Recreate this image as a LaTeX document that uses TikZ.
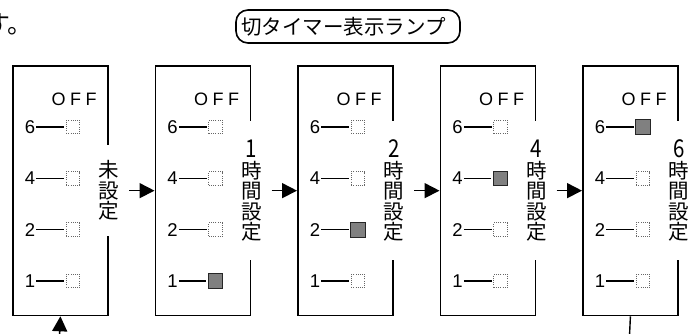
\documentclass[tikz,border=0pt]{standalone}
\usepackage{fontspec}
\usepackage{graphicx}
\setmainfont{Liberation Sans}
\newfontfamily\jp{Noto Sans CJK JP}
\usetikzlibrary{arrows.meta}
\newcommand\dg[1]{\scalebox{1}[1.2]{#1}}
\begin{document}
\begin{tikzpicture}[x=1pt,y=-1pt,
  box/.style={draw, line width=1.8pt, minimum width=95pt, minimum height=249.5pt, inner sep=0pt, anchor=north west},
  vlabel/.style={fill=white, inner xsep=0pt, inner ysep=0pt, minimum width=22pt, font=\jp\fontsize{20.5}{20.5}\selectfont, align=center},
  offtext/.style={inner sep=0pt, font=\fontsize{18}{18}\selectfont},
  digit/.style={inner sep=1pt, font=\fontsize{18.5}{18.5}\selectfont},
  lampoff/.style={draw=black!60, dash pattern=on 0.9pt off 1.3pt, line width=1pt, minimum size=13.5pt, inner sep=0pt},
  lampon/.style={draw=black!85, fill=black!50, line width=0.9pt, minimum size=14.5pt, inner sep=0pt},
  lead/.style={line width=1.3pt, shorten >=1.5pt},
  arr/.style={line width=1.6pt, -{Triangle[length=15pt,width=15pt]}},
  tag/.style={draw, line width=1.6pt, rounded corners=12pt, minimum width=224pt, minimum height=33pt, inner sep=0pt, font=\jp\fontsize{20.5}{20.5}\selectfont}
]
\useasboundingbox (0,0) rectangle (688,334);

\node[anchor=base west, inner sep=0pt, font=\jp\fontsize{25}{25}\selectfont] (su) at (-15,34) {す。};

\node[tag] (lbl) at (348,26.5) {切タイマー表示ランプ\hspace*{9pt}};

\foreach \i/\lab/\on/\gap in {1/{未\\設\\定}/0/91,
    2/{\dg{1}\\時\\間\\設\\定}/1/139,
    3/{\dg{2}\\時\\間\\設\\定}/2/139,
    4/{\dg{4}\\時\\間\\設\\定}/4/139,
    5/{\dg{6}\\時\\間\\設\\定}/6/139}
{
  \pgfmathsetmacro\L{12+142.5*(\i-1)}
  \node[box] (b\i) at (\L,65) {};
  \node[vlabel, minimum height=\gap pt] (t\i) at (b\i.east) {\lab};
  \node[offtext] (o\i) at (\L+62,99.5) {O\hspace{4.5pt}F\hspace{4.5pt}F};
  \foreach \r/\y in {6/127,4/178.3,2/229.7,1/281} {
    \node[digit] (d\i-\r) at (\L+18,\y) {\r};
    \ifnum\r=\on
      \node[lampon] (l\i-\r) at (\L+61,\y) {};
    \else
      \node[lampoff] (l\i-\r) at (\L+61,\y) {};
    \fi
    \draw[lead] (d\i-\r.east) -- (l\i-\r.west);
  }
}

\foreach \i/\j in {1/2,2/3,3/4,4/5}
  \draw[arr] ([xshift=9pt]t\i.east) -- (b\j.west);

\coordinate (c1) at (59.5,336);
\coordinate (c5) at (629.5,336);
\draw[arr] (c1) -- (b1.south);
\draw[line width=1.4pt] (b5.south) -- (c5);
\end{tikzpicture}
\end{document}
